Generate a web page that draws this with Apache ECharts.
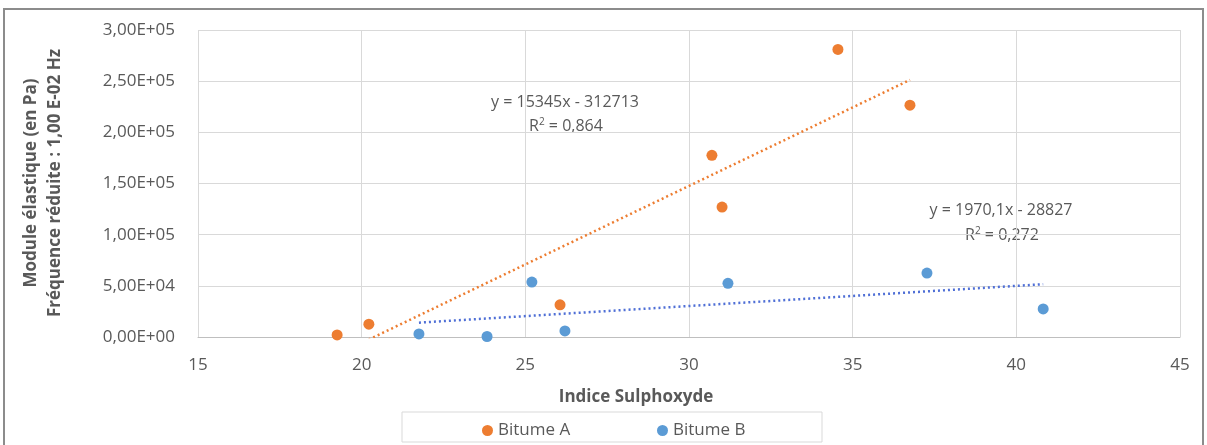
<!DOCTYPE html>
<html>
<head>
<meta charset="utf-8">
<script src="https://cdn.jsdelivr.net/npm/echarts@6/dist/echarts.min.js"></script>
<style>
  html, body { margin: 0; padding: 0; background: #ffffff; }
  #chart { width: 1207px; height: 445px; }
</style>
</head>
<body>
<div id="chart"></div>
<script>
// ---- Data ----
const seriesNames = ['Bitume A', 'Bitume B'];
const bitumeA_x = [19.25, 20.22, 26.06, 30.70, 31.01, 34.55, 36.75];
const bitumeA_y = [2000, 12500, 31500, 177500, 127000, 281000, 226500];
const bitumeB_x = [21.75, 23.83, 26.21, 25.20, 31.19, 37.27, 40.82];
const bitumeB_y = [3000, 500, 5900, 53700, 52500, 62500, 27400];
// Trendline equations as printed on the chart
const trendA = { slope: 15345, intercept: -312713, r2: '0,864', label: 'y = 15345x - 312713' };
const trendB = { slope: 1970.1, intercept: -28827, r2: '0,272', label: 'y = 1970,1x - 28827' };
const xTicks = [15, 20, 25, 30, 35, 40, 45];
const yTicks = [0, 50000, 100000, 150000, 200000, 250000, 300000];

const colA = '#ED7D31';
const colB = '#5B9BD5';
const colTrendB = '#4F6FD6';
const txt = '#595959';
const FONT = '"Open Sans", "Liberation Sans", sans-serif';

function pairs(xs, ys) { return xs.map((x, i) => [x, ys[i]]); }
function trendPts(xs, t) {
  const lo = Math.min.apply(null, xs), hi = Math.max.apply(null, xs);
  return [[lo, t.slope * lo + t.intercept], [hi, t.slope * hi + t.intercept]];
}
function sciFmt(v) {
  const s = Number(v).toExponential(2); // e.g. 3.00e+5
  const m = s.split('e');
  const exp = parseInt(m[1], 10);
  const sign = exp < 0 ? '-' : '+';
  const e = String(Math.abs(exp)).padStart(2, '0');
  return m[0].replace('.', ',') + 'E' + sign + e;
}

const chart = echarts.init(document.getElementById('chart'));
const option = {
  backgroundColor: '#ffffff',
  animation: false,
  textStyle: { fontFamily: FONT },
  grid: { left: 198, right: 27, top: 30, bottom: 108, containLabel: false },
  xAxis: {
    type: 'value', min: xTicks[0], max: xTicks[xTicks.length - 1], interval: 5,
    axisLine: { show: true, lineStyle: { color: '#bfbfbf', width: 1 } },
    axisTick: { show: false },
    axisLabel: { color: txt, fontSize: 17, margin: 20, fontFamily: FONT },
    splitLine: { show: true, lineStyle: { color: '#d9d9d9', width: 1 } }
  },
  yAxis: {
    type: 'value', min: yTicks[0], max: yTicks[yTicks.length - 1], interval: 50000,
    axisLine: { show: false },
    axisTick: { show: false },
    axisLabel: { color: txt, fontSize: 17, margin: 23, fontFamily: FONT, formatter: sciFmt },
    splitLine: { show: true, lineStyle: { color: '#d9d9d9', width: 1 } }
  },
  legend: [
    { data: [{ name: seriesNames[0], icon: 'circle' }], left: 477, top: 417, itemWidth: 11, itemHeight: 11, itemGap: 5,
      textStyle: { color: txt, fontSize: 17, fontFamily: FONT } },
    { data: [{ name: seriesNames[1], icon: 'circle' }], left: 652, top: 417, itemWidth: 11, itemHeight: 11, itemGap: 5,
      textStyle: { color: txt, fontSize: 17, fontFamily: FONT } }
  ],
  graphic: [
    { type: 'rect', silent: true, z: -1, shape: { x: 4, y: 9, width: 1199, height: 445 },
      style: { fill: 'none', stroke: '#8c8c8c', lineWidth: 2 } },
    { type: 'rect', silent: true, shape: { x: 402, y: 412, width: 420, height: 30 },
      style: { fill: 'none', stroke: '#d9d9d9', lineWidth: 1 } },
    { type: 'text', x: 636, y: 397, style: { text: 'Indice Sulphoxyde', fill: txt, font: 'bold 17px ' + FONT, textAlign: 'center', textVerticalAlign: 'middle' } },
    { type: 'text', x: 31, y: 183, rotation: Math.PI / 2,
      style: { text: 'Module élastique (en Pa)', fill: txt, font: 'bold 17px ' + FONT, textAlign: 'center', textVerticalAlign: 'middle' } },
    { type: 'text', x: 55, y: 183, rotation: Math.PI / 2,
      style: { text: 'Fréquence réduite : 1,00 E-02 Hz', fill: txt, font: 'bold 17px ' + FONT, textAlign: 'center', textVerticalAlign: 'middle' } },
    { type: 'text', x: 565, y: 102, style: { text: trendA.label, fill: txt, font: '16px ' + FONT, textAlign: 'center', textVerticalAlign: 'middle' } },
    { type: 'text', x: 566, y: 126, style: { rich: { a: { fill: txt, font: '16px ' + FONT }, s: { fill: txt, font: '10px ' + FONT, verticalAlign: 'top', padding: [0, 0, 8, 0] } },
      text: '{a|R}{s|2}{a| = ' + trendA.r2 + '}', textAlign: 'center', textVerticalAlign: 'middle' } },
    { type: 'text', x: 1001, y: 210, style: { text: trendB.label, fill: txt, font: '16px ' + FONT, textAlign: 'center', textVerticalAlign: 'middle' } },
    { type: 'text', x: 1002, y: 235, style: { rich: { a: { fill: txt, font: '16px ' + FONT }, s: { fill: txt, font: '10px ' + FONT, verticalAlign: 'top', padding: [0, 0, 8, 0] } },
      text: '{a|R}{s|2}{a| = ' + trendB.r2 + '}', textAlign: 'center', textVerticalAlign: 'middle' } }
  ],
  series: [
    { name: 'Trend A', type: 'line', data: trendPts(bitumeA_x, trendA), showSymbol: false, symbol: 'none', clip: true,
      lineStyle: { color: colA, width: 2.5, type: [2, 3] }, z: 2, silent: true },
    { name: 'Trend B', type: 'line', data: trendPts(bitumeB_x, trendB), showSymbol: false, symbol: 'none', clip: true,
      lineStyle: { color: colTrendB, width: 2.5, type: [2, 3] }, z: 2, silent: true },
    { name: seriesNames[0], type: 'scatter', data: pairs(bitumeA_x, bitumeA_y), symbol: 'circle', symbolSize: 11, clip: false,
      itemStyle: { color: colA, opacity: 1 }, z: 3 },
    { name: seriesNames[1], type: 'scatter', data: pairs(bitumeB_x, bitumeB_y), symbol: 'circle', symbolSize: 11, clip: false,
      itemStyle: { color: colB, opacity: 1 }, z: 3 }
  ]
};
chart.setOption(option);
</script>
</body>
</html>
